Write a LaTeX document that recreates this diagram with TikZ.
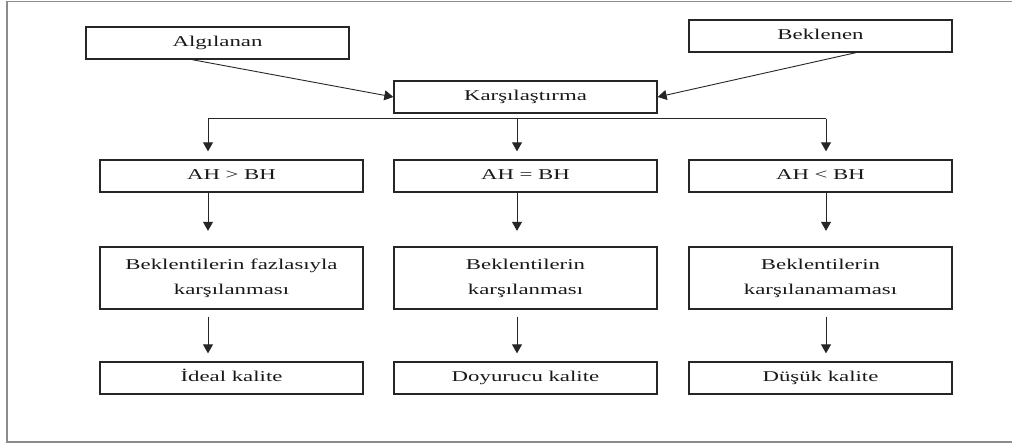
\documentclass[tikz,border=0pt]{standalone}
\usepackage{fontspec}
\setmainfont[FakeStretch=1.52]{Liberation Serif}
\usetikzlibrary{arrows.meta}
\begin{document}
\begin{tikzpicture}[x=1pt,y=-1pt,
  basebox/.style={draw=black!85, line width=1.3pt, minimum width=263pt, inner sep=0pt,
    font=\fontsize{15}{25}\selectfont, text=black!90},
  box/.style={basebox, minimum height=32pt, text height=10pt, text depth=3pt},
  tallbox/.style={basebox, minimum height=62pt, align=center},
  arr/.style={-{Triangle[length=9pt,width=10pt]}, line width=0.9pt, draw=black!85},
  frame/.style={draw=black!45, line width=1.6pt}]
\useasboundingbox (0,0) rectangle (1012,447);
\draw[frame] (1014,1.5) -- (7,1.5) -- (7,442) -- (1014,442);

\node[box] (alg) at (217.5,43) {Algılanan};
\node[box] (bek) at (820.5,36) {Beklenen};
\node[box] (kar) at (525.5,97) {Karşılaştırma};

\node[box] (r2a) at (231.5,176) {AH > BH};
\node[box] (r2b) at (525.5,176) {AH = BH};
\node[box] (r2c) at (820.5,176) {AH < BH};

\node[tallbox] (r3a) at (231.5,278) {Beklentilerin fazlasıyla\\karşılanması};
\node[tallbox] (r3b) at (525.5,278) {Beklentilerin\\karşılanması};
\node[tallbox] (r3c) at (820.5,278) {Beklentilerin\\karşılanamaması};

\node[box] (r4a) at (231.5,378) {İdeal kalite};
\node[box] (r4b) at (525.5,378) {Doyurucu kalite};
\node[box] (r4c) at (820.5,378) {Düşük kalite};

\draw[arr] ([xshift=-25.5pt]alg.south) -- (kar.west);
\draw[arr] ([xshift=35.5pt]bek.south) -- (kar.east);

\coordinate (hl) at (208,118.5);
\coordinate (hm) at (517,118.5);
\coordinate (hr) at (826,118.5);
\draw[line width=0.9pt, draw=black!85] (hl) -- (hr);
\draw[arr, shorten >=8pt] (hl) -- (r2a.north -| hl);
\draw[arr, shorten >=8pt] (hm) -- (r2b.north -| hm);
\draw[arr, shorten >=8pt] (hr) -- (r2c.north -| hr);

\draw[arr, shorten >=15.5pt] (r2a.south -| hl) -- (r3a.north -| hl);
\draw[arr, shorten >=15.5pt] (r2b.south -| hm) -- (r3b.north -| hm);
\draw[arr, shorten >=15.5pt] (r2c.south -| hr) -- (r3c.north -| hr);

\draw[arr, shorten <=7pt, shorten >=8pt] (r3a.south -| hl) -- (r4a.north -| hl);
\draw[arr, shorten <=7pt, shorten >=8pt] (r3b.south -| hm) -- (r4b.north -| hm);
\draw[arr, shorten <=7pt, shorten >=8pt] (r3c.south -| hr) -- (r4c.north -| hr);
\end{tikzpicture}
\end{document}
